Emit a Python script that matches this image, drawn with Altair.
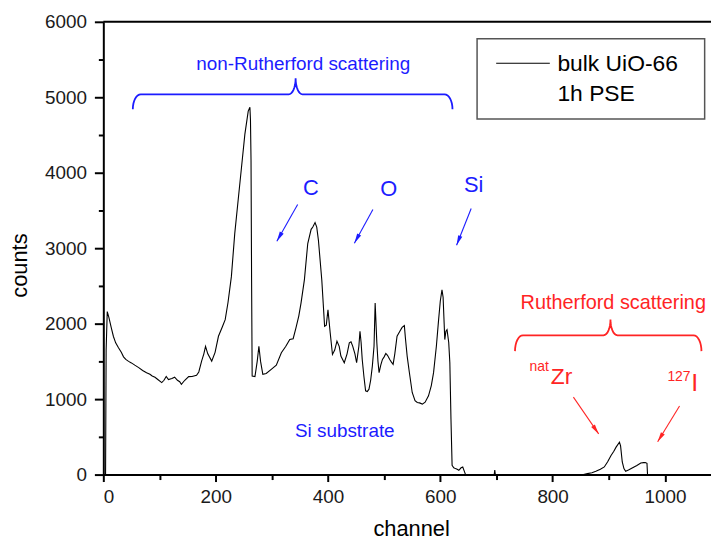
import math
import altair as alt
import pandas as pd

# ---------------- spectrum values ----------------
channel = [
    0, 4, 5, 7, 10, 14, 18, 22, 27, 32,
    36, 40, 45, 50, 56, 63, 70, 77, 83, 87,
    92, 97, 104, 108, 112, 116, 122, 127, 132, 136,
    139, 145, 152, 158, 166, 170, 175, 179, 182, 186,
    193, 199, 205, 212, 217, 222, 228, 234, 240, 246,
    252, 258, 261, 262, 263, 264, 265, 270, 274, 277,
    280, 284, 290, 299, 308, 317, 325, 332, 338, 343,
    348, 352, 358, 364, 370, 373, 377, 380, 383, 389,
    394, 397, 400, 404, 408, 412, 416, 420, 423, 429,
    434, 438, 441, 444, 448, 451, 455, 457, 459, 461,
    464, 467, 470, 473, 476, 479, 482, 484, 485, 487,
    489, 491, 494, 497, 500, 503, 506, 510, 513, 516,
    519, 523, 528, 532, 536, 538, 541, 545, 550, 555,
    559, 563, 568, 573, 579, 584, 588, 593, 597, 600,
    603, 605, 608, 610, 612, 615, 617, 619, 621, 624,
    627, 630, 633, 637, 640, 643, 645, 696, 697, 698,
    855, 862, 870, 877, 885, 892, 898, 904, 909, 913,
    919, 921, 924, 927, 930, 935, 940, 945, 950, 957,
    962, 965, 968, 969, 1082,
]
counts = [
    0, 0, 1650, 2160, 2080, 1950, 1830, 1746, 1680, 1620,
    1560, 1526, 1500, 1480, 1450, 1417, 1380, 1350, 1330, 1307,
    1290, 1260, 1219, 1250, 1300, 1260, 1272, 1290, 1250, 1230,
    1197, 1250, 1298, 1300, 1316, 1360, 1504, 1600, 1700, 1600,
    1504, 1620, 1833, 1960, 2053, 2280, 2623, 3193, 3632, 4070,
    4509, 4816, 4868, 4700, 4158, 2579, 1307, 1300, 1500, 1700,
    1500, 1329, 1340, 1395, 1450, 1614, 1700, 1790, 1800, 1943,
    2100, 2272, 2580, 3062, 3250, 3281, 3340, 3280, 3105, 2579,
    1965, 1980, 2184, 1877, 1592, 1650, 1768, 1700, 1570, 1482,
    1600, 1746, 1760, 1702, 1600, 1482, 1700, 1899, 1750, 1526,
    1300, 1110, 1100, 1132, 1250, 1438, 1700, 2272, 2100, 1746,
    1500, 1351, 1450, 1526, 1560, 1605, 1580, 1526, 1490, 1460,
    1600, 1833, 1900, 1950, 1974, 1800, 1570, 1350, 1088, 980,
    956, 950, 934, 960, 1044, 1180, 1351, 1700, 2053, 2300,
    2447, 2350, 1789, 1900, 1921, 1750, 1482, 737, 123, 90,
    79, 70, 57, 90, 101, 40, 0, 0, 60, 0,
    0, 13, 25, 44, 70, 101, 170, 254, 310, 364,
    430, 380, 167, 80, 44, 60, 80, 101, 120, 154,
    158, 160, 150, 0, 0,
]
assert len(channel) == len(counts)

x_ticks = [0, 200, 400, 600, 800, 1000]
x_minor = [100, 300, 500, 700, 900]
y_ticks = [0, 1000, 2000, 3000, 4000, 5000, 6000]
y_minor = [500, 1500, 2500, 3500, 4500, 5500]

series_name = ["bulk UiO-66", "1h PSE"]

# annotation texts (data coordinates)
blue_labels = ["non-Rutherford scattering", "C", "O", "Si", "Si substrate"]
blue_x = [356, 369.5, 508, 659.4, 430]
blue_y = [5355, 3711, 3697, 3741, 500]
blue_size = [19, 22, 22, 22, 19]

red_labels = ["Rutherford scattering", "Zr", "nat", "I", "127"]
red_x = [908, 816, 776, 1053, 1025]
red_y = [2193, 1197, 1368, 1105, 1237]
red_size = [20, 23, 14, 25, 14]

# arrows: start -> end (data coordinates)
arrow_x1 = [346, 480, 655, 837, 1026]
arrow_y1 = [3579, 3513, 3526, 1026, 908]
arrow_x2 = [309, 447, 629, 882, 987]
arrow_y2 = [3092, 3066, 3039, 539, 434]
arrow_col = ["blue", "blue", "blue", "red", "red"]

# braces: left, right, centre, horizontal level, end level, tip level
brace_blue = (52.5, 621.7, 342.4, 5039, 4842, 5250)
brace_red = (733, 1065, 903, 1846, 1636, 2053)

# ---------------- geometry ----------------
X_MAX = 1082
Y_MAX = 6000
W, H = 612, 456
PX_X = W / X_MAX
PX_Y = H / Y_MAX
FONT = "Liberation Sans"
BLUE = "#1c1cff"
RED = "#ff2424"

xs = alt.Scale(domain=[0, X_MAX], nice=False, zero=False)
ys = alt.Scale(domain=[0, Y_MAX], nice=False, zero=False)


def brace_points(spec, rad_px=8.0):
    left, right, cen, base, end, tip = spec
    a = rad_px / PX_X
    ca = 7 / PX_X
    pts = []
    n = 8
    for i in range(n + 1):
        t = i / n * math.pi / 2
        pts.append((left + a - a * math.cos(t), end + (base - end) * math.sin(t)))
    for i in range(n + 1):
        t = i / n * math.pi / 2
        pts.append((cen - ca + ca * math.sin(t), tip - (tip - base) * math.cos(t)))
    for i in range(n + 1):
        t = i / n * math.pi / 2
        pts.append((cen + ca - ca * math.cos(t), tip - (tip - base) * math.sin(t)))
    for i in range(n + 1):
        t = i / n * math.pi / 2
        pts.append((right - a + a * math.sin(t), end + (base - end) * math.cos(t)))
    return pts


def brace_df(spec, color):
    pts = brace_points(spec)
    return pd.DataFrame({"x": [p[0] for p in pts], "y": [p[1] for p in pts],
                         "o": list(range(len(pts))), "c": color})


df = pd.DataFrame({"channel": channel, "counts": counts})

line = alt.Chart(df).mark_line(color="black", strokeWidth=1.1).encode(
    x=alt.X("channel:Q", scale=xs, axis=alt.Axis(
        orient="bottom", values=x_ticks, tickSize=7, tickWidth=2, domainWidth=2,
        labelFontSize=19, labelPadding=6, labelColor="#1a1a1a", format="d",
        title="channel", titleFontSize=22, titleFontWeight="normal",
        titleX=310, titleY=61, titleBaseline="alphabetic", titleAlign="center",
        grid=False, domainColor="black", tickColor="black")),
    y=alt.Y("counts:Q", scale=ys, axis=alt.Axis(
        orient="left", values=y_ticks, tickSize=9, tickWidth=2, domainWidth=2,
        labelFontSize=19, labelPadding=8, labelColor="#1a1a1a", format="d",
        title="counts", titleFontSize=22, titleFontWeight="normal",
        titleAngle=-90, titleX=-77, titleY=245, titleBaseline="alphabetic",
        titleAlign="center", grid=False, domainColor="black", tickColor="black")),
)

minor_x = alt.Chart(pd.DataFrame({"v": x_minor})).mark_point(opacity=0).encode(
    x=alt.X("v:Q", scale=xs, axis=alt.Axis(
        orient="bottom", values=x_minor, tickSize=5, tickWidth=2, labels=False,
        domain=False, title=None, grid=False, tickColor="black")),
)
minor_y = alt.Chart(pd.DataFrame({"v": y_minor})).mark_point(opacity=0).encode(
    y=alt.Y("v:Q", scale=ys, axis=alt.Axis(
        orient="left", values=y_minor, tickSize=5, tickWidth=2, labels=False,
        domain=False, title=None, grid=False, tickColor="black")),
)

top_rule = alt.Chart(pd.DataFrame({"v": [Y_MAX]})).mark_rule(
    color="black", strokeWidth=2).encode(
    y=alt.Y("v:Q", scale=ys, axis=None))

braces = alt.Chart(pd.concat([brace_df(brace_blue, BLUE), brace_df(brace_red, RED)])).mark_line(
    strokeWidth=1.8).encode(
    x=alt.X("x:Q", scale=xs, axis=None),
    y=alt.Y("y:Q", scale=ys, axis=None),
    order="o:Q",
    detail="c:N",
    color=alt.Color("c:N", scale=None),
)

angles = []
for x1, y1, x2, y2 in zip(arrow_x1, arrow_y1, arrow_x2, arrow_y2):
    dx = (x2 - x1) * PX_X
    dy = -(y2 - y1) * PX_Y
    angles.append(math.degrees(math.atan2(dx, -dy)) % 360)
adf = pd.DataFrame({"x1": arrow_x1, "y1": arrow_y1, "x2": arrow_x2, "y2": arrow_y2,
                    "a": angles,
                    "c": [BLUE if c == "blue" else RED for c in arrow_col]})
shafts = alt.Chart(adf).mark_rule(strokeWidth=1.1).encode(
    x=alt.X("x1:Q", scale=xs, axis=None), y=alt.Y("y1:Q", scale=ys, axis=None),
    x2="x2:Q", y2="y2:Q", color=alt.Color("c:N", scale=None))
heads = alt.Chart(adf).mark_point(
    shape="M0,0L0.45,2L-0.45,2Z", filled=True, size=100, opacity=1, strokeWidth=0).encode(
    x=alt.X("x2:Q", scale=xs, axis=None), y=alt.Y("y2:Q", scale=ys, axis=None),
    angle=alt.Angle("a:Q", scale=None), color=alt.Color("c:N", scale=None))

tdf = pd.DataFrame({"t": blue_labels + red_labels, "x": blue_x + red_x, "y": blue_y + red_y,
                    "s": blue_size + red_size,
                    "c": [BLUE] * len(blue_labels) + [RED] * len(red_labels)})
texts = alt.Chart(tdf).mark_text(baseline="alphabetic", align="center", font=FONT).encode(
    x=alt.X("x:Q", scale=xs, axis=None), y=alt.Y("y:Q", scale=ys, axis=None),
    text="t:N", size=alt.Size("s:Q", scale=None), color=alt.Color("c:N", scale=None))

leg_box = alt.Chart(pd.DataFrame({"x": [665.5], "x2": [1070.7], "y": [5776], "y2": [4713]})).mark_rect(
    fill="white", stroke="#555555", strokeWidth=1.5).encode(
    x=alt.X("x:Q", scale=xs, axis=None), x2="x2:Q",
    y=alt.Y("y:Q", scale=ys, axis=None), y2="y2:Q")
leg_line = alt.Chart(pd.DataFrame({"x": [699.5], "x2": [795], "y": [5451]})).mark_rule(
    color="black", strokeWidth=1.1).encode(
    x=alt.X("x:Q", scale=xs, axis=None), x2="x2:Q", y=alt.Y("y:Q", scale=ys, axis=None))
leg_text = alt.Chart(pd.DataFrame({"t": series_name, "x": [808.5, 808.5], "y": [5342, 4947]})).mark_text(
    align="left", baseline="alphabetic", fontSize=23, font=FONT, color="black").encode(
    x=alt.X("x:Q", scale=xs, axis=None), y=alt.Y("y:Q", scale=ys, axis=None), text="t:N")

chart = alt.layer(
    minor_x, minor_y, top_rule, braces, shafts, heads, texts, leg_box, leg_line, leg_text, line
).resolve_axis(x="independent", y="independent").properties(
    width=W, height=H,
    padding={"left": 96, "top": 12, "right": 0, "bottom": 68},
    autosize=alt.AutoSizeParams(type="none"),
    background="white",
).configure_view(stroke=None).configure_axis(
    labelFont=FONT, titleFont=FONT, titleColor="black"
).configure_text(font=FONT)

chart.save("out.html", embed_options={"renderer": "svg", "actions": False})
